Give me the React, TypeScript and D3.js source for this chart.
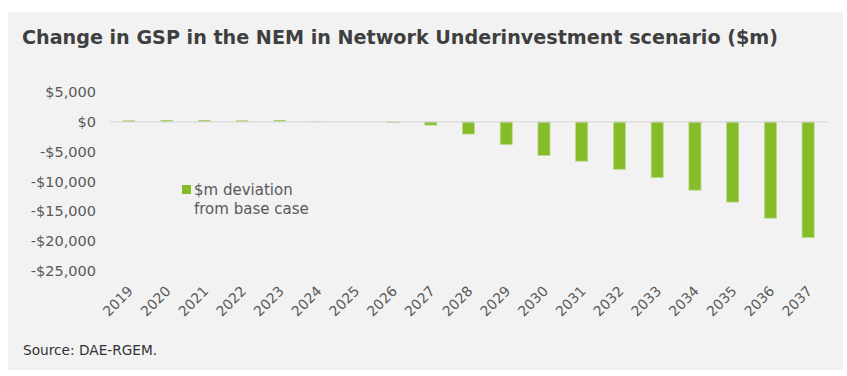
import React from "react";
import * as d3 from "d3";

const years = ["2019","2020","2021","2022","2023","2024","2025","2026","2027","2028","2029","2030","2031","2032","2033","2034","2035","2036","2037"];
const deviation = [220, 250, 250, 220, 250, 80, 0, -150, -550, -2050, -3800, -5650, -6600, -7950, -9350, -11450, -13450, -16150, -19400];
const yTicks = [5000, 0, -5000, -10000, -15000, -20000, -25000];
const title = "Change in GSP in the NEM in Network Underinvestment scenario ($m)";
const legendLines = ["$m deviation", "from base case"];
const source = "Source: DAE-RGEM.";

const W = 847, H = 376;
const font = "'DejaVu Sans', Verdana, sans-serif";
const textColor = "#595959";
const barColor = "#85bc27";

function fmt(v: number) {
  const s = "$" + d3.format(",")(Math.abs(v));
  return v < 0 ? "-" + s : s;
}

export default function App() {
  const x = d3.scaleBand<string>().domain(years).range([110, 827]).paddingInner(0.68).paddingOuter(0.34);
  const y = d3.scaleLinear().domain([-25000, 5000]).range([271, 92]);
  const y0 = y(0);
  return (
    <svg width={W} height={H} style={{ position: "absolute", left: 0, top: 0 }} fontFamily={font}>
      <rect x={0} y={0} width={W} height={H} fill="#ffffff" />
      <rect x={8} y={12} width={835} height={358} fill="#f2f2f2" />
      <text x={22} y={44} fontSize={19} fontWeight="bold" fill="#3f3f3f" textLength={756} lengthAdjust="spacingAndGlyphs">{title}</text>
      {yTicks.map((t) => (
        <text key={t} x={96} y={y(t)} dy="0.35em" textAnchor="end" fontSize={14.5} fill={textColor}>{fmt(t)}</text>
      ))}
      {years.map((yr, i) => {
        const v = deviation[i];
        const top = Math.min(y(v), y0);
        const h = Math.abs(y(v) - y0);
        return (
          <rect key={yr} x={x(yr)} y={top} width={x.bandwidth()} height={h} fill={barColor} stroke="#b9db8c" strokeWidth={h > 2 ? 0.8 : 0} />
        );
      })}
      <line x1={110} x2={827} y1={y0} y2={y0} stroke="#d9d9d9" strokeWidth={1.2} />
      {years.map((yr) => {
        const cx = (x(yr) as number) + x.bandwidth() / 2 + 5;
        return (
          <text key={yr} transform={`translate(${cx},${292}) rotate(-45)`} textAnchor="end" fontSize={14} fill={textColor}>{yr}</text>
        );
      })}
      <rect x={182} y={185} width={9} height={9} fill={barColor} />
      {legendLines.map((l, i) => (
        <text key={l} x={194} y={195 + i * 19} fontSize={15} fill={textColor}>{l}</text>
      ))}
      <text x={23} y={355} fontSize={13.7} fill="#333333">{source}</text>
    </svg>
  );
}
